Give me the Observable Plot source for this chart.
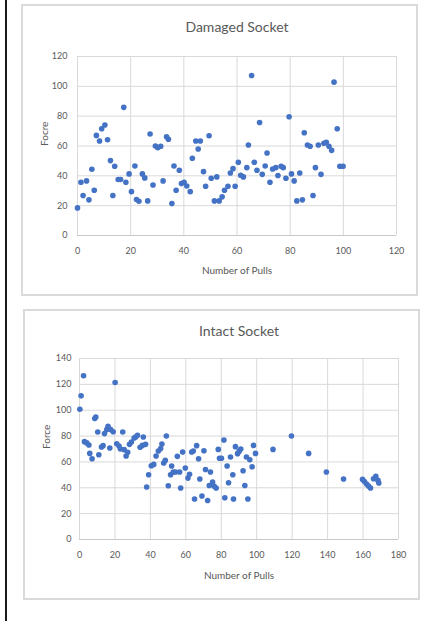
<!DOCTYPE html>
<html>
<head>
<meta charset="utf-8">
<script src="https://cdn.jsdelivr.net/npm/d3@7"></script>
<script src="https://cdn.jsdelivr.net/npm/@observablehq/plot@0.6"></script>
<style>
  html, body { margin: 0; padding: 0; background: #fff; }
  body { width: 435px; height: 621px; position: relative; overflow: hidden; font-family: Lato, "Open Sans", sans-serif; }
  .vline { position: absolute; left: 5px; top: 0; width: 2px; height: 621px; background: #1a1a1a; }
  .box { position: absolute; border: 2px solid #dadada; box-sizing: border-box; background: #fff; }
  .box svg { position: absolute; left: 0; top: 0; }
</style>
</head>
<body>
<div class="vline"></div>
<div id="box1" class="box" style="left:21px; top:4px; width:397px; height:292px;"></div>
<div id="box2" class="box" style="left:23px; top:309px; width:397px; height:291px;"></div>
<script>
// ---- Damaged Socket data ----
const damagedTitle = "Damaged Socket";
const damagedXLabel = "Number of Pulls";
const damagedYLabel = "Focre";
const damagedXTicks = [0, 20, 40, 60, 80, 100, 120];
const damagedYTicks = [0, 20, 40, 60, 80, 100, 120];
const damagedPulls = [0,1.3,2.1,3.4,4.3,5.4,6.3,7.1,8.3,9.1,10.3,11.3,12.4,13.3,14.0,15.3,16.2,17.4,18.2,19.4,20.3,21.6,22.2,23.1,24.4,25.3,26.4,27.3,28.4,29.3,30.2,31.3,32.2,33.5,34.2,35.5,36.3,37.1,38.3,39.1,40.1,41.1,42.4,43.2,44.5,45.4,46.2,47.4,48.2,49.5,50.3,51.5,52.4,53.3,54.4,55.3,56.6,57.5,58.5,59.3,60.5,61.4,62.4,63.7,64.3,65.5,66.5,67.5,68.5,69.5,70.6,71.3,72.4,73.4,74.6,75.4,76.6,77.4,78.4,79.6,80.5,81.5,82.5,83.6,84.6,85.3,86.5,87.5,88.6,89.5,90.6,91.6,92.7,93.6,94.6,95.6,96.5,97.7,98.7,99.9];
const damagedForce = [18.5,35.7,26.8,36.6,23.9,44.4,30.3,67.1,63.4,71.6,74.1,64.2,50.2,26.8,46.4,37.5,37.5,85.9,35.7,41.3,29.4,46.6,24.1,23.0,41.3,38.6,23.2,68.0,33.9,60.0,58.9,59.8,36.6,66.2,64.5,21.4,46.6,30.3,43.7,34.8,35.7,33.2,29.4,51.8,63.4,58.0,63.4,42.8,33.0,66.9,38.4,23.2,39.3,23.2,25.9,30.3,33.0,41.9,44.8,33.0,49.1,40.4,39.3,45.5,60.7,107.3,49.1,43.7,75.8,41.0,46.6,55.3,35.7,44.6,45.5,40.2,46.4,45.5,38.4,79.6,41.3,36.6,23.2,41.9,23.9,68.9,60.7,59.8,26.8,45.5,60.7,41.0,61.8,62.5,59.8,57.1,102.8,71.6,46.4,46.4];

// ---- Intact Socket data ----
const intactTitle = "Intact Socket";
const intactXLabel = "Number of Pulls";
const intactYLabel = "Force";
const intactXTicks = [0, 20, 40, 60, 80, 100, 120, 140, 160, 180];
const intactYTicks = [0, 20, 40, 60, 80, 100, 120, 140];
const intactPulls = [0.2,0.9,2.3,2.8,4.1,5.3,5.8,7.1,8.6,9.2,10.3,10.9,12.4,13.3,14.1,15.4,16.1,17.1,17.6,19.0,20.1,21.0,22.3,23.1,24.4,25.2,26.3,27.2,28.2,29.3,30.8,31.7,32.7,34.2,35.5,36.0,37.3,37.9,39.0,40.5,41.9,43.2,44.5,45.8,46.5,47.5,48.4,49.0,50.1,51.4,52.0,52.9,54.2,55.2,56.5,57.1,58.2,59.7,61.2,62.1,63.3,64.2,64.9,66.1,67.2,67.9,69.1,70.2,71.1,72.3,73.2,73.9,75.1,76.0,77.1,78.3,79.0,80.1,81.5,82.0,83.3,84.1,85.2,86.5,86.9,88.0,89.2,90.1,91.0,92.3,93.3,94.2,95.0,96.1,97.4,98.2,99.3,109.2,119.6,129.3,139.3,149.0,159.7,160.8,162.0,163.1,164.2,165.9,167.2,168.4,168.9];
const intactForce = [100.7,111.1,126.6,75.7,74.7,73.1,66.6,62.5,93.5,94.8,83.2,65.6,71.6,72.6,81.9,85.0,87.6,70.8,85.0,83.4,121.4,74.1,72.3,70.0,83.2,69.5,64.6,67.4,73.6,75.4,78.5,79.3,80.6,71.3,72.8,79.3,73.6,40.6,50.1,57.1,58.1,64.6,68.5,70.3,73.9,59.2,61.2,80.1,41.6,50.1,56.8,52.2,52.2,64.3,52.2,39.8,67.7,55.3,47.5,50.4,67.7,68.5,31.3,72.6,62.5,46.8,33.6,68.7,54.2,30.2,41.8,52.2,44.4,41.1,39.8,69.7,62.8,62.8,77.0,32.3,56.8,43.9,63.8,50.1,31.3,71.8,66.4,68.2,70.0,53.2,41.8,63.8,31.3,61.7,56.3,72.8,66.6,69.7,80.1,66.6,52.2,46.8,46.5,44.9,42.9,41.3,39.8,47.0,48.8,45.7,43.7];

const damaged = damagedPulls.map((x, i) => ({x, y: damagedForce[i]}));
const intact = intactPulls.map((x, i) => ({x, y: intactForce[i]}));

const grey = "#595959";
const gridColor = "#d9d9d9";
const dotColor = "#4472C4";

function chart({data, xTicks, yTicks, title, xLabel, yLabel, width, height, margins, titleDy, xLabelDy, yLabelDx, yPad}) {
  const xDomain = [xTicks[0], xTicks[xTicks.length - 1]];
  const yDomain = [yTicks[0], yTicks[yTicks.length - 1]];
  return Plot.plot({
    width, height,
    marginLeft: margins[0], marginRight: margins[1], marginTop: margins[2], marginBottom: margins[3],
    x: {domain: xDomain},
    y: {domain: yDomain},
    style: {fontFamily: "Lato, 'Open Sans', sans-serif", fontSize: "9px", color: grey, background: "transparent", overflow: "visible"},
    marks: [
      Plot.ruleX(xTicks, {stroke: gridColor, strokeWidth: 1}),
      Plot.ruleY(yTicks, {stroke: gridColor, strokeWidth: 1}),
      Plot.ruleY([yTicks[0]], {stroke: "#c8c8c8", strokeWidth: 1}),
      Plot.axisX({ticks: xTicks, tickSize: 0, tickPadding: 12, label: null, fill: grey}),
      Plot.axisY({ticks: yTicks, tickSize: 0, tickPadding: yPad, label: null, fill: grey}),
      Plot.dot(data, {x: "x", y: "y", r: 2.8, fill: dotColor, stroke: null}),
      Plot.text([title], {frameAnchor: "top", lineAnchor: "middle", dy: titleDy, fontSize: 14, fill: grey}),
      Plot.text([xLabel], {frameAnchor: "bottom", lineAnchor: "middle", dy: xLabelDy, fontSize: 10, fill: grey}),
      Plot.text([yLabel], {frameAnchor: "left", lineAnchor: "middle", dx: yLabelDx, rotate: -90, fontSize: 10, fill: grey})
    ]
  });
}

document.getElementById("box1").appendChild(chart({
  data: damaged, xTicks: damagedXTicks, yTicks: damagedYTicks,
  title: damagedTitle, xLabel: damagedXLabel, yLabel: damagedYLabel,
  width: 393, height: 288, margins: [54, 20, 50, 59],
  titleDy: -29, xLabelDy: 35, yLabelDx: -33, yPad: 10
}));

document.getElementById("box2").appendChild(chart({
  data: intact, xTicks: intactXTicks, yTicks: intactYTicks,
  title: intactTitle, xLabel: intactXLabel, yLabel: intactYLabel,
  width: 393, height: 287, margins: [54, 20, 47, 59],
  titleDy: -27, xLabelDy: 36, yLabelDx: -33, yPad: 8
}));
</script>
</body>
</html>
